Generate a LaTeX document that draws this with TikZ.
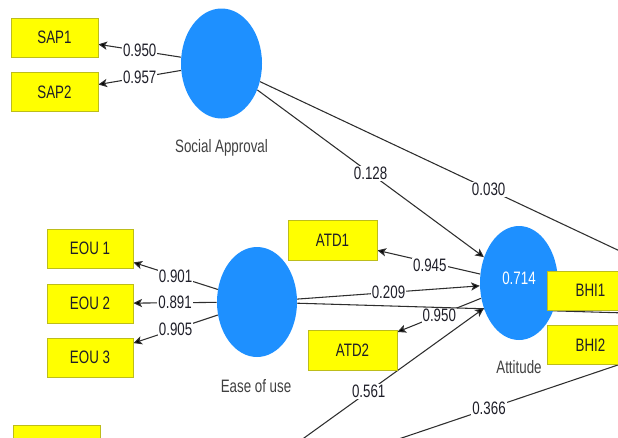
\documentclass[tikz,border=0pt]{standalone}
\usepackage{fontspec}
\setmainfont{Liberation Sans}
\usepackage{graphicx}
\usetikzlibrary{shapes.geometric,arrows.meta,backgrounds}
\definecolor{cblue}{HTML}{1E90FF}
\definecolor{ybox}{HTML}{FFFF00}
\definecolor{yedge}{HTML}{BDBD1A}
\definecolor{lcol}{HTML}{2E2E2E}
\definecolor{tcol}{HTML}{1E1E28}
\newcommand{\vs}[1]{\scalebox{1}[1.35]{#1}}
\begin{document}
\begin{tikzpicture}[x=0.75pt,y=-0.75pt,
  every node/.style={font=\fontsize{10}{12}\selectfont, text=tcol},
  ind/.style={rectangle, fill=ybox, draw=yedge, line width=0.6pt, minimum width=65.25pt, minimum height=29.25pt, inner sep=0pt},
  lv/.style={ellipse, fill=cblue, draw=none, minimum width=60pt, minimum height=82.5pt, inner sep=0pt},
  lvname/.style={text=black!75},
  lbl/.style={fill=white, inner sep=0.8pt, text=tcol},
  conn/.style={draw=lcol, line width=0.8pt, -{Stealth[length=6.5pt,width=6.2pt,inset=1.6pt,fill=black]}}
]
\useasboundingbox (0,0) rectangle (618,437);
\clip (0,0) rectangle (618,437);

% latent variables
\node[lv, minimum width=60.75pt] (SA) at (221.5,63.5) {};
\node[lv] (EOU) at (257,302) {};
\node[lv, minimum width=58.5pt, minimum height=85.5pt] (ATT) at (519,283) {};
\node[lv] (BI) at (760,317) {};
\node[lv] (BOT) at (218,500) {};

\node[text=white] (attval) at (519,278) {\vs{0.714}};

\node[lvname] (SAname) at (221.5,148) {\vs{Social Approval}};
\node[lvname] (EOUname) at (256,386) {\vs{Ease of use}};
\node[lvname] (ATTname) at (519,367) {\vs{Attitude}};

% indicators
\node[ind] (SAP1) at (54.5,37.5) {\vs{SAP1}};
\node[ind] (SAP2) at (54.5,92) {\vs{SAP2}};
\node[ind, minimum width=64.5pt] (EOU1) at (90,248.5) {\vs{EOU 1}};
\node[ind, minimum width=64.5pt] (EOU2) at (90,303.5) {\vs{EOU 2}};
\node[ind, minimum width=64.5pt] (EOU3) at (90,357.5) {\vs{EOU 3}};
\node[ind, minimum width=66.75pt, minimum height=30pt] (ATD1) at (332.5,240) {\vs{ATD1}};
\node[ind, minimum width=66.75pt, minimum height=30pt] (ATD2) at (352.5,350) {\vs{ATD2}};
\node[ind] (BHI1) at (590.5,290.5) {\vs{BHI1}};
\node[ind] (BHI2) at (590.5,345) {\vs{BHI2}};
\node[ind] (BQ1) at (56.5,445) {};

% connectors
\begin{scope}[on background layer]
\clip (0,0) rectangle (618,437);
\draw[conn] (SA) -- node[lbl]{\vs{0.950}} (SAP1);
\draw[conn] (SA) -- node[lbl]{\vs{0.957}} (SAP2);
\draw[conn] (EOU) -- node[lbl]{\vs{0.901}} (EOU1);
\draw[conn] (EOU) -- node[lbl]{\vs{0.891}} (EOU2);
\draw[conn] (EOU) -- node[lbl]{\vs{0.905}} (EOU3);
\draw[conn] (ATT) -- node[lbl, pos=0.49, yshift=-2pt]{\vs{0.945}} (ATD1);
\draw[conn] (ATT) -- node[lbl]{\vs{0.950}} (ATD2);
\draw[conn] (SA) -- node[lbl]{\vs{0.128}} (ATT);
\draw[conn] (SA) -- node[lbl, pos=0.495]{\vs{0.030}} (BI);
\draw[conn] (EOU) -- node[lbl]{\vs{0.209}} (ATT);
\draw[conn] (EOU) -- (BI);
\draw[conn] (BOT) -- node[lbl]{\vs{0.561}} (ATT);
\draw[conn] (BOT) -- node[lbl]{\vs{0.366}} (BI);
\end{scope}
\end{tikzpicture}
\end{document}
